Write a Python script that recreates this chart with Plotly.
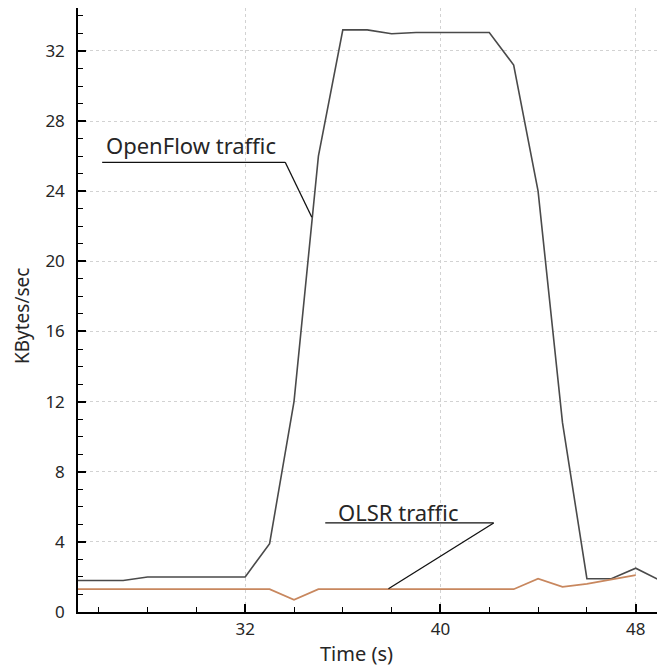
import plotly.graph_objects as go

# ---- data ----
time_s = [25, 26, 27, 28, 29, 30, 31, 32, 33, 34, 35, 36, 37, 38, 39, 40, 41, 42, 43, 44, 45, 46, 47, 48, 49, 50]
openflow = [1.8, 1.8, 1.8, 2.0, 2.0, 2.0, 2.0, 2.0, 3.9, 12.0, 26.0, 33.2, 33.2, 32.98, 33.05, 33.05, 33.05, 33.05,
            31.2, 24.0, 10.8, 1.9, 1.9, 2.5, 1.8, 1.8]
olsr_time = [25, 26, 27, 28, 29, 30, 31, 32, 33, 34, 35, 36, 37, 38, 39, 40, 41, 42, 43, 44, 45, 46, 47, 48]
olsr = [1.3, 1.3, 1.3, 1.3, 1.3, 1.3, 1.3, 1.3, 1.3, 0.7, 1.3, 1.3, 1.3, 1.3, 1.3, 1.3, 1.3, 1.3, 1.3,
        1.9, 1.43, 1.6, 1.85, 2.1]

x_range = [25.15, 49.2]
y_range = [0, 34.45]
y_ticks = [0, 4, 8, 12, 16, 20, 24, 28, 32]
x_ticks = [32, 40, 48]

# callout labels (data coordinates)
of_label = "OpenFlow traffic"
of_text_pos = (26.2, 26.62)
of_underline = [(26.14, 25.65), (33.64, 25.65), (34.73, 22.51)]
olsr_label = "OLSR traffic"
olsr_text_pos = (35.72, 5.72)
olsr_underline = [(35.28, 5.08), (42.18, 5.08), (37.87, 1.33)]

FONT = "Noto Sans"
TXT = "#262626"

fig = go.Figure()
fig.add_trace(go.Scatter(x=time_s, y=openflow, mode="lines",
                         line=dict(color="#4a4a4a", width=1.6), name="OpenFlow traffic"))
fig.add_trace(go.Scatter(x=olsr_time, y=olsr, mode="lines",
                         line=dict(color="#c8875e", width=1.8), name="OLSR traffic"))

# callout lines
(a0, a1, a2) = of_underline
fig.add_shape(type="line", x0=a0[0], y0=a0[1], x1=a1[0], y1=a1[1], xref="x", yref="y",
              line=dict(color="#111111", width=1.3))
fig.add_shape(type="line", x0=a1[0], y0=a1[1], x1=a2[0], y1=a2[1], xref="x", yref="y",
              line=dict(color="#111111", width=1.3))
(b0, b1, b2) = olsr_underline
fig.add_shape(type="line", x0=b0[0], y0=b0[1], x1=b1[0], y1=b1[1], xref="x", yref="y",
              line=dict(color="#111111", width=1.3))
fig.add_shape(type="line", x0=b1[0], y0=b1[1], x1=b2[0], y1=b2[1], xref="x", yref="y",
              line=dict(color="#111111", width=1.3))

fig.add_annotation(x=of_text_pos[0], y=of_text_pos[1], text=of_label, showarrow=False,
                   xanchor="left", yanchor="middle", xref="x", yref="y",
                   font=dict(family=FONT, size=22, color=TXT))
fig.add_annotation(x=olsr_text_pos[0], y=olsr_text_pos[1], text=olsr_label, showarrow=False,
                   xanchor="left", yanchor="middle", xref="x", yref="y",
                   font=dict(family=FONT, size=22, color=TXT))

# axis titles
fig.add_annotation(x=(356 - 78) / 587, y=(612 - 653) / 604, xref="paper", yref="paper", text="Time (s)",
                   showarrow=False, xanchor="center", yanchor="middle",
                   font=dict(family=FONT, size=20, color=TXT))
fig.add_annotation(x=(22 - 78) / 587, y=0.49, xref="paper", yref="paper", text="KBytes/sec", textangle=-90,
                   showarrow=False, xanchor="center", yanchor="middle",
                   font=dict(family=FONT, size=19, color=TXT))

# the page body adds an 8px offset, so the figure is sized to fill the remaining window
fig.update_layout(
    width=657, height=658,
    margin=dict(l=70, r=0, t=0, b=54),
    plot_bgcolor="white", paper_bgcolor="white",
    showlegend=False,
    font=dict(family=FONT, size=17, color=TXT),
)
fig.update_xaxes(range=x_range, tickmode="array", tickvals=x_ticks, ticktext=[str(v) for v in x_ticks],
                 ticks="inside", ticklen=8, tickwidth=1.5, tickcolor="black",
                 showline=True, linecolor="black", linewidth=1.5,
                 showgrid=True, gridcolor="#d2d2d2", griddash="dot", gridwidth=1,
                 minor=dict(ticks="inside", ticklen=5, tickwidth=1.3, tickcolor="black", dtick=2, tick0=0,
                            showgrid=False),
                 zeroline=False, ticklabelstandoff=1, automargin=False,
                 tickfont=dict(family=FONT, size=17, color=TXT))
fig.update_yaxes(range=y_range, tickmode="array", tickvals=y_ticks, ticktext=[str(v) for v in y_ticks],
                 ticks="inside", ticklen=8, tickwidth=1.5, tickcolor="black",
                 showline=True, linecolor="black", linewidth=1.5,
                 showgrid=True, gridcolor="#d2d2d2", griddash="dot", gridwidth=1,
                 minor=dict(ticks="inside", ticklen=5, tickwidth=1.3, tickcolor="black", dtick=1, tick0=0,
                            showgrid=False),
                 zeroline=False, ticklabelstandoff=8, automargin=False,
                 tickfont=dict(family=FONT, size=17, color=TXT))

fig.write_html("out.html")
